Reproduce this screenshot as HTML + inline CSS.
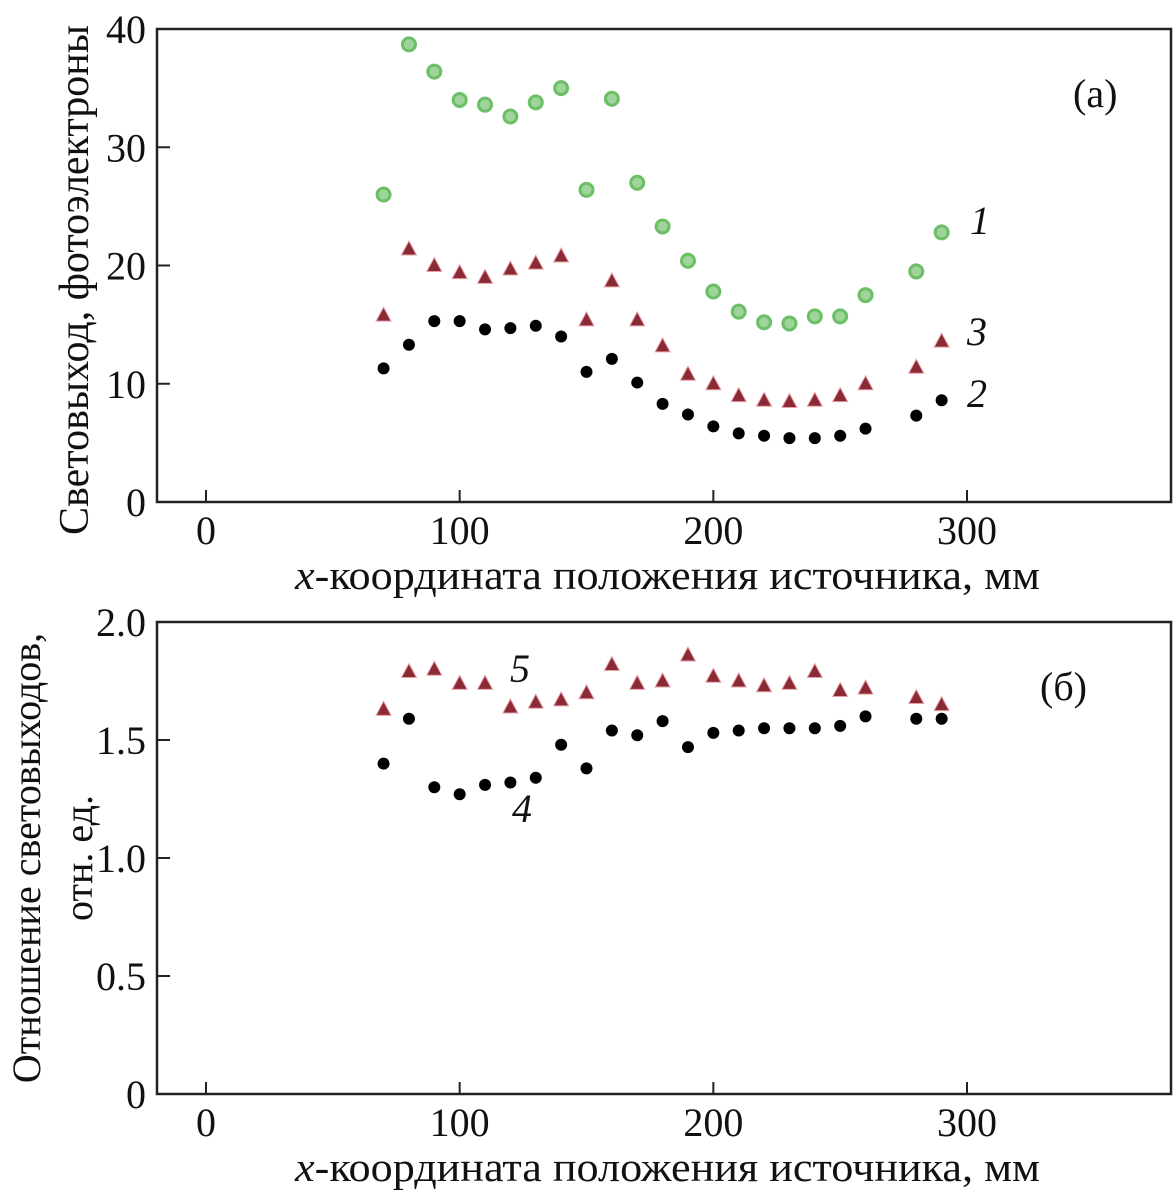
<!DOCTYPE html>
<html><head><meta charset="utf-8"><style>
html,body{margin:0;padding:0;background:#fff;}
svg{display:block;font-family:"Liberation Serif","DejaVu Serif",serif;}
</style></head><body>
<svg id="chart" width="1173" height="1192" viewBox="0 0 1173 1192" xmlns="http://www.w3.org/2000/svg"></svg>
<script>
const xPos = [70,80,90,100,110,120,130,140,150,160,170,180,190,200,210,220,230,240,250,260,280,290];
const series1 = [26.0,38.7,36.4,34.0,33.6,32.6,33.8,35.0,26.4,34.1,27.0,23.3,20.4,17.8,16.1,15.2,15.1,15.7,15.7,17.5,19.5,22.8];
const series3 = [15.8,21.4,20.0,19.4,19.0,19.7,20.2,20.8,15.4,18.7,15.4,13.2,10.8,10.0,9.0,8.6,8.5,8.6,9.0,10.0,11.4,13.6];
const series2 = [11.3,13.3,15.3,15.3,14.6,14.7,14.9,14.0,11.0,12.1,10.1,8.3,7.4,6.4,5.8,5.6,5.4,5.4,5.6,6.2,7.3,8.6];
const series5 = [1.63,1.79,1.80,1.74,1.74,1.64,1.66,1.67,1.70,1.82,1.74,1.75,1.86,1.77,1.75,1.73,1.74,1.79,1.71,1.72,1.68,1.65];
const series4 = [1.40,1.59,1.30,1.27,1.31,1.32,1.34,1.48,1.38,1.54,1.52,1.58,1.47,1.53,1.54,1.55,1.55,1.55,1.56,1.60,1.59,1.59];
const xTicks = [0,100,200,300];
const yTicksA = [0,10,20,30,40];
const yTicksB = [0,0.5,1.0,1.5,2.0];
const yTickLabelsB = ["0","0.5","1.0","1.5","2.0"];

const NS="http://www.w3.org/2000/svg";
const svg=document.getElementById('chart');
function mk(tag,attrs,parent){const e=document.createElementNS(NS,tag);for(const k in attrs)e.setAttribute(k,attrs[k]);(parent||svg).appendChild(e);return e;}
const xs = v => 206 + v*2.5367;
const FL=157, FR=1171;
const FS=40;

function panel(top,bottom,yMax,yTicks,yLabels,name){
  const ys = v => bottom - v*(bottom-top)/yMax;
  const g=mk('g',{});
  
  
  const fr=mk('rect',{x:FL,y:top,width:FR-FL,height:bottom-top,fill:'none',stroke:'#222','stroke-width':2.5},g);
  
  
  xTicks.forEach(t=>{
    const l=mk('line',{x1:xs(t),x2:xs(t),y1:bottom,y2:bottom-12,stroke:'#222','stroke-width':2},g);
    
    
    const tx=mk('text',{x:xs(t),y:bottom+42,'font-size':FS,'text-anchor':'middle',fill:'#111'},g);
    tx.textContent=t;
    
    
  });
  yTicks.forEach((t,i)=>{
    const l=mk('line',{x1:FL,x2:FL+13,y1:ys(t),y2:ys(t),stroke:'#222','stroke-width':2},g);
    
    
    const tx=mk('text',{x:146,y:ys(t)+14,'font-size':FS,'text-anchor':'end',fill:'#111'},g);
    tx.textContent=yLabels[i];
    
    
  });
  const xt=mk('text',{x:295,y:bottom+87,'font-size':FS+1,textLength:745,lengthAdjust:'spacingAndGlyphs',fill:'#111'},g);
  xt.innerHTML='<tspan font-style="italic">x</tspan>-координата положения источника, мм';
  
  
  return ys;
}
function circles(vals,ys,fill,stroke,r,name){
  vals.forEach((v,i)=>{
    const c=mk('circle',{cx:xs(xPos[i]),cy:ys(v),r:r,fill:fill,stroke:stroke,'stroke-width':stroke==='none'?0:3});
    
    
  });
}
function tris(vals,ys,name){
  vals.forEach((v,i)=>{
    const x=xs(xPos[i]),y=ys(v);
    const p=mk('polygon',{points:`${x},${y-8} ${x-7.5},${y+6} ${x+7.5},${y+6}`,fill:'#8a2a35',stroke:'#e8a0a8','stroke-width':1});
    
    
  });
}
function label(x,y,t,name,italic){
  const e=mk('text',{x:x,y:y,'font-size':FS,fill:'#111','font-style':italic?'italic':'normal'});
  e.textContent=t;
  
  
}

const ysA=panel(29,502,40,yTicksA,yTicksA.map(String),'panel-a');
circles(series1,ysA,'#9fd49a','#6cbf66',6.5,'point-series-1');
tris(series3,ysA,'point-series-3');
circles(series2,ysA,'#000','none',6,'point-series-2');
label(1073,107,'(a)','panel-a-label',false);
label(970,234,'1','series-1-label',true);
label(967,345,'3','series-3-label',true);
label(967,407,'2','series-2-label',true);
const ytA=mk('text',{transform:'translate(88,280) rotate(-90)','font-size':FS+2,'text-anchor':'middle',fill:'#111'});
ytA.textContent='Световыход, фотоэлектроны';



const ysB=panel(622,1094,2.0,yTicksB,yTickLabelsB,'panel-b');
tris(series5,ysB,'point-series-5');
circles(series4,ysB,'#000','none',6,'point-series-4');
label(1040,700,'(б)','panel-b-label',false);
label(510,682,'5','series-5-label',true);
label(512,822,'4','series-4-label',true);
const ytB=mk('text',{transform:'translate(40,858) rotate(-90)','font-size':FS,'text-anchor':'middle',fill:'#111'});
ytB.textContent='Отношение световыходов,';


const ytB2=mk('text',{transform:'translate(92,858) rotate(-90)','font-size':FS,'text-anchor':'middle',fill:'#111'});
ytB2.textContent='отн. ед.';


</script>
</body></html>
